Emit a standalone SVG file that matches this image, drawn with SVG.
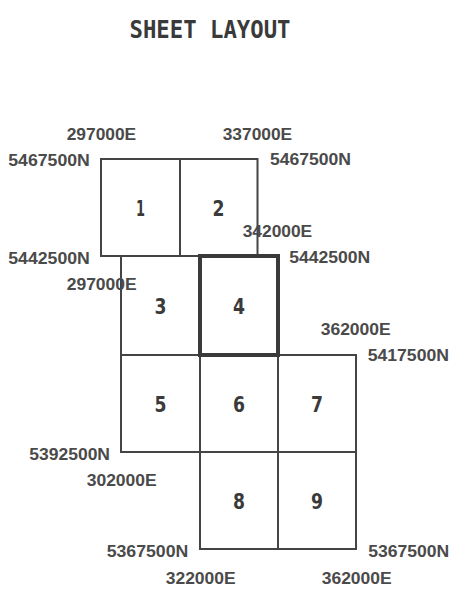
<svg xmlns="http://www.w3.org/2000/svg" width="467" height="606" viewBox="0 0 467 606">
<style>
.sh{fill:none;stroke:#444;stroke-width:2}
.thick{fill:none;stroke:#3a3a3a;stroke-width:4}
.num{font-family:"DejaVu Sans",sans-serif;font-weight:bold;font-size:21px;fill:#3a3a3a;text-anchor:middle}
.lab{font-family:"Liberation Sans",Arial,sans-serif;font-weight:bold;font-size:16px;fill:#4a4a4a}
.title{font-family:"DejaVu Sans Mono",monospace;font-weight:bold;font-size:24px;fill:#3a3a3a}
</style>
<rect width="467" height="606" fill="#fff"/>
<text class="title" x="129.5" y="38" textLength="161" lengthAdjust="spacingAndGlyphs">SHEET LAYOUT</text>
<g id="sheet1"><rect class="sh" x="101" y="159" width="79" height="97"/><text class="num" x="140.5" y="215.5" textLength="9" lengthAdjust="spacingAndGlyphs">1</text></g>
<g id="sheet2"><rect class="sh" x="180" y="159" width="77.5" height="97"/><text class="num" x="218.5" y="215.5" textLength="12" lengthAdjust="spacingAndGlyphs">2</text></g>
<g id="sheet3"><rect class="sh" x="121" y="256" width="79" height="99"/><text class="num" x="160.5" y="313.5" textLength="12" lengthAdjust="spacingAndGlyphs">3</text></g>
<g id="sheet5"><rect class="sh" x="121" y="355" width="79" height="97"/><text class="num" x="160.5" y="411.5" textLength="12" lengthAdjust="spacingAndGlyphs">5</text></g>
<g id="sheet6"><rect class="sh" x="200" y="355" width="78" height="97"/><text class="num" x="239" y="411.5" textLength="12" lengthAdjust="spacingAndGlyphs">6</text></g>
<g id="sheet7"><rect class="sh" x="278" y="355" width="78" height="97"/><text class="num" x="317" y="411.5" textLength="12" lengthAdjust="spacingAndGlyphs">7</text></g>
<g id="sheet8"><rect class="sh" x="200" y="452" width="78" height="97"/><text class="num" x="239" y="508.5" textLength="12" lengthAdjust="spacingAndGlyphs">8</text></g>
<g id="sheet9"><rect class="sh" x="278" y="452" width="78" height="97"/><text class="num" x="317" y="508.5" textLength="12" lengthAdjust="spacingAndGlyphs">9</text></g>
<g id="sheet4"><rect class="thick" x="200" y="256" width="78" height="99"/><text class="num" x="239" y="313.5" textLength="12" lengthAdjust="spacingAndGlyphs">4</text></g>
<g id="connectors"></g>
<g id="labels">
<text class="lab" x="66.7" y="139.5" textLength="69.5" lengthAdjust="spacingAndGlyphs">297000E</text>
<text class="lab" x="222.7" y="139.5" textLength="69.5" lengthAdjust="spacingAndGlyphs">337000E</text>
<text class="lab" x="8.3" y="166" textLength="81.5" lengthAdjust="spacingAndGlyphs">5467500N</text>
<text class="lab" x="270" y="164.5" textLength="81" lengthAdjust="spacingAndGlyphs">5467500N</text>
<text class="lab" x="242.7" y="236.8" textLength="69.5" lengthAdjust="spacingAndGlyphs">342000E</text>
<text class="lab" x="8.3" y="263.5" textLength="81.5" lengthAdjust="spacingAndGlyphs">5442500N</text>
<text class="lab" x="289.3" y="262.8" textLength="81" lengthAdjust="spacingAndGlyphs">5442500N</text>
<text class="lab" x="66.7" y="290" textLength="70" lengthAdjust="spacingAndGlyphs">297000E</text>
<text class="lab" x="320.7" y="335.2" textLength="70" lengthAdjust="spacingAndGlyphs">362000E</text>
<text class="lab" x="367.7" y="360.5" textLength="81.3" lengthAdjust="spacingAndGlyphs">5417500N</text>
<text class="lab" x="29.3" y="459.8" textLength="80.7" lengthAdjust="spacingAndGlyphs">5392500N</text>
<text class="lab" x="86.7" y="486.3" textLength="70" lengthAdjust="spacingAndGlyphs">302000E</text>
<text class="lab" x="106.7" y="557" textLength="81.6" lengthAdjust="spacingAndGlyphs">5367500N</text>
<text class="lab" x="368.3" y="557" textLength="81" lengthAdjust="spacingAndGlyphs">5367500N</text>
<text class="lab" x="165.7" y="583.8" textLength="70" lengthAdjust="spacingAndGlyphs">322000E</text>
<text class="lab" x="321.7" y="583.8" textLength="70" lengthAdjust="spacingAndGlyphs">362000E</text>
</g>
</svg>
